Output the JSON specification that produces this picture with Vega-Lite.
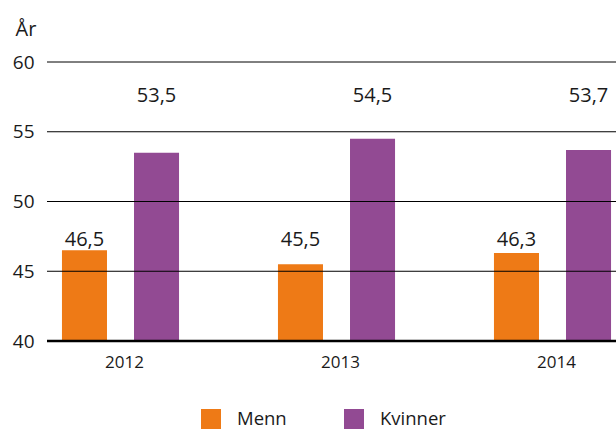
{
  "$schema": "https://vega.github.io/schema/vega-lite/v6.json",
  "width": 569,
  "height": 279,
  "autosize": "none",
  "padding": {"left": 47, "top": 62, "right": 0, "bottom": 90},
  "background": "white",
  "config": {
    "font": "Open Sans",
    "view": {"stroke": null},
    "text": {"color": "#1a1a1a"}
  },
  "datasets": {
    "ages": [
      {"year": "2012", "sex": "Menn", "value": 46.5, "label": "46,5"},
      {"year": "2012", "sex": "Kvinner", "value": 53.5, "label": "53,5"},
      {"year": "2013", "sex": "Menn", "value": 45.5, "label": "45,5"},
      {"year": "2013", "sex": "Kvinner", "value": 54.5, "label": "54,5"},
      {"year": "2014", "sex": "Menn", "value": 46.3, "label": "46,3"},
      {"year": "2014", "sex": "Kvinner", "value": 53.7, "label": "53,7"}
    ],
    "gridlevels": [
      {"level": 40}, {"level": 45}, {"level": 50}, {"level": 55}, {"level": 60}
    ]
  },
  "layer": [
    {
      "data": {"name": "ages"},
      "mark": {"type": "bar", "clip": true},
      "encoding": {
        "x": {
          "field": "year",
          "type": "nominal",
          "scale": {"range": [-34.5, 613.5], "paddingInner": 0.458, "paddingOuter": 0.229},
          "axis": {
            "title": null,
            "domain": false,
            "ticks": false,
            "labelAngle": 0,
            "labelFontSize": 17,
            "labelColor": "#1a1a1a",
            "labelPadding": 13,
            "labelOffset": 4,
            "labelFont": "Open Sans"
          }
        },
        "xOffset": {
          "field": "sex",
          "type": "nominal",
          "scale": {"domain": ["Menn", "Kvinner"], "paddingInner": 0.375, "paddingOuter": 0}
        },
        "y": {
          "field": "value",
          "type": "quantitative",
          "scale": {"domain": [40, 60], "nice": false, "zero": false},
          "axis": {
            "values": [40, 45, 50, 55, 60],
            "title": "År",
            "titleAngle": 0,
            "titleAlign": "left",
            "titleBaseline": "alphabetic",
            "titleX": -32,
            "titleY": -27,
            "titleFontSize": 20,
            "titleFontWeight": "normal",
            "titleColor": "#1a1a1a",
            "domain": false,
            "ticks": false,
            "grid": false,
            "labelFontSize": 19,
            "labelColor": "#1a1a1a",
            "labelPadding": 13
          }
        },
        "y2": {"datum": 40},
        "color": {
          "field": "sex",
          "type": "nominal",
          "scale": {"domain": ["Menn", "Kvinner"], "range": ["#EE7A16", "#924A93"]},
          "legend": {
            "title": null,
            "orient": "none",
            "legendX": 154,
            "legendY": 347,
            "direction": "horizontal",
            "symbolType": "square",
            "symbolSize": 400,
            "symbolStrokeWidth": 0,
            "labelFontSize": 18.5,
            "labelColor": "#1a1a1a",
            "labelOffset": 16,
            "columnPadding": 57
          }
        }
      }
    },
    {
      "data": {"name": "gridlevels"},
      "mark": {"type": "rule", "color": "#000000"},
      "encoding": {
        "y": {"field": "level", "type": "quantitative"},
        "strokeWidth": {
          "condition": {"test": "datum.level === 40", "value": 2.5},
          "value": 1
        }
      }
    },
    {
      "data": {"name": "ages"},
      "transform": [{"filter": "datum.sex === 'Menn'"}],
      "mark": {"type": "text", "fontSize": 20, "baseline": "alphabetic", "align": "center"},
      "encoding": {
        "x": {"field": "year", "type": "nominal"},
        "xOffset": {"field": "sex", "type": "nominal"},
        "y": {"datum": 46.8, "type": "quantitative"},
        "text": {"field": "label"}
      }
    },
    {
      "data": {"name": "ages"},
      "transform": [{"filter": "datum.sex === 'Kvinner'"}],
      "mark": {"type": "text", "fontSize": 20, "baseline": "alphabetic", "align": "center"},
      "encoding": {
        "x": {"field": "year", "type": "nominal"},
        "xOffset": {"field": "sex", "type": "nominal"},
        "y": {"datum": 57.1, "type": "quantitative"},
        "text": {"field": "label"}
      }
    }
  ]
}
